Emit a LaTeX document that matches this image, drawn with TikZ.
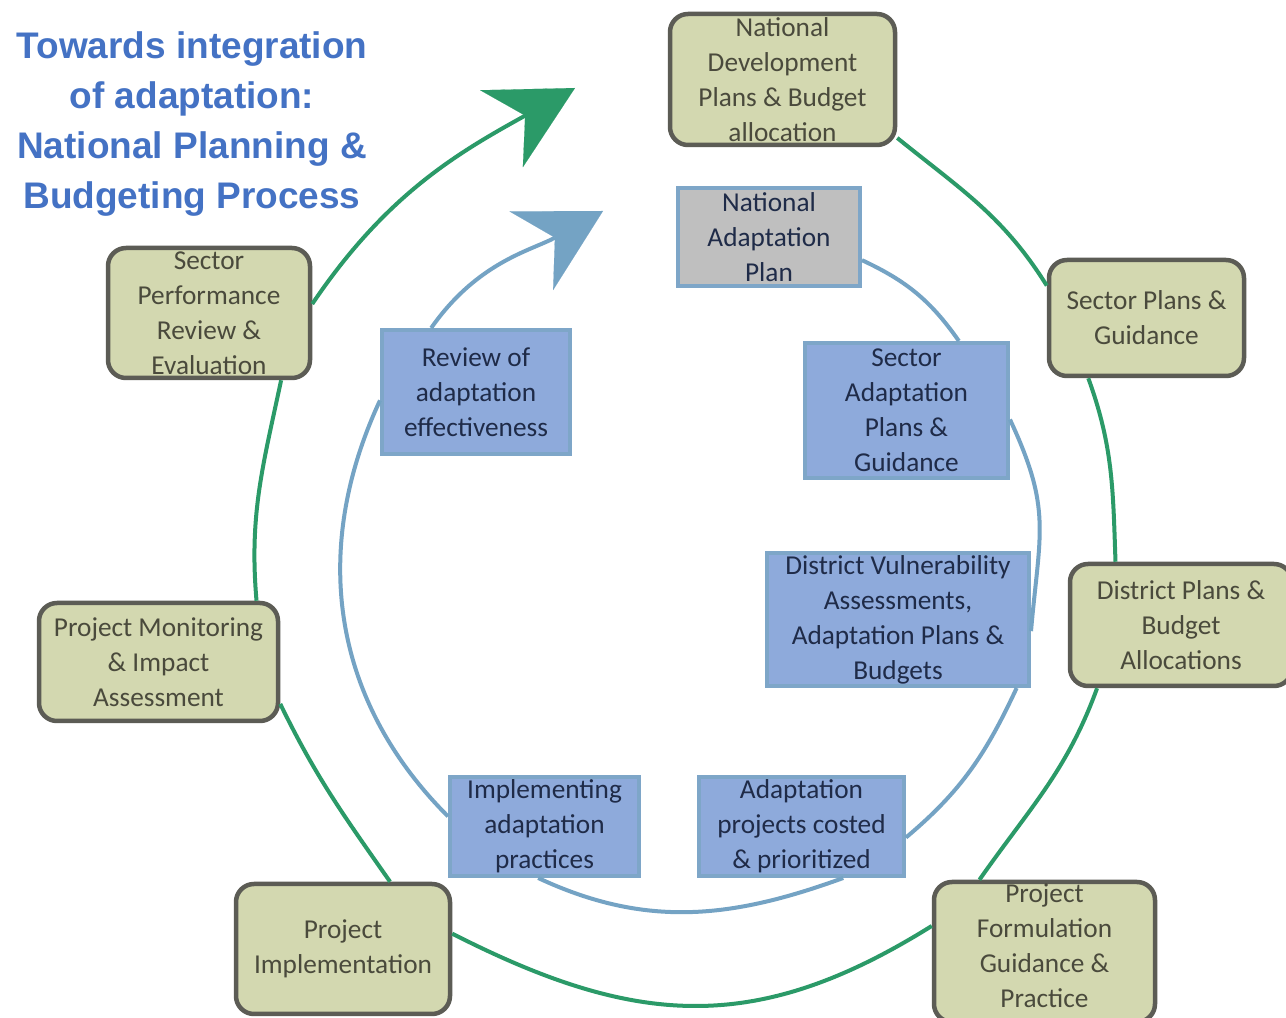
\documentclass[tikz,border=0pt]{standalone}
\usepackage{fontspec}
\setmainfont{Carlito}
\newfontfamily\titlefont{Liberation Sans}
\usetikzlibrary{arrows.meta, positioning}

\definecolor{olivefill}{HTML}{D3D8B0}
\definecolor{boxgray}{HTML}{5C5C55}
\definecolor{olivetext}{HTML}{4A4A3C}
\definecolor{bluefill}{HTML}{8EAADB}
\definecolor{steelline}{HTML}{7EA6C8}
\definecolor{navytext}{HTML}{1F2B48}
\definecolor{napgray}{HTML}{BFBFBF}
\definecolor{cyclegreen}{HTML}{2B9A68}
\definecolor{cycleblue}{HTML}{74A3C4}
\definecolor{titleblue}{HTML}{4472C4}

\tikzset{
  greenbox/.style={draw=boxgray, line width=4.5pt, fill=olivefill, rounded corners=18pt,
    text=olivetext, inner sep=0pt, align=center, font=\fontsize{27.3}{35}\selectfont},
  bluebox/.style={draw=steelline, line width=4pt, fill=bluefill,
    text=navytext, inner sep=0pt, align=center, font=\fontsize{27.3}{35}\selectfont},
  titletext/.style={text=titleblue, align=center, font=\titlefont\bfseries\fontsize{37}{50}\selectfont},
  gline/.style={draw=cyclegreen, line width=4pt},
  bline/.style={draw=cycleblue, line width=4pt}
}

\begin{document}
\begin{tikzpicture}[x=1pt, y=1pt]
\useasboundingbox (0,0) rectangle (1286,1018);
\clip (0,0) rectangle (1286,1018);
\fill[white] (0,0) rectangle (1286,1018);

% Title
\node[titletext] (title) at (192,894) {Towards integration\\of adaptation:\\National Planning \&\\Budgeting Process};

% Outer cycle: planning and budgeting
\node[greenbox, minimum width=225pt, minimum height=131pt] (ndp) at (782.5,938.5) {National\\Development\\Plans \& Budget\\allocation};
\node[greenbox, minimum width=195pt, minimum height=116pt] (secplans) at (1146.5,700) {Sector Plans \&\\Guidance};
\node[greenbox, minimum width=222pt, minimum height=122pt] (distplans) at (1181,393) {District Plans \&\\Budget\\Allocations};
\node[greenbox, minimum width=221pt, minimum height=140pt, text depth=12pt] (projform) at (1044.5,66) {Project\\Formulation\\Guidance \&\\Practice};
\node[greenbox, minimum width=214pt, minimum height=130pt] (projimpl) at (343,69) {Project\\Implementation};
\node[greenbox, minimum width=239pt, minimum height=118pt] (projmon) at (158.5,356) {Project Monitoring\\\& Impact\\Assessment};
\node[greenbox, minimum width=202pt, minimum height=130pt] (secperf) at (209,705) {Sector\\Performance\\Review \&\\Evaluation};

% Inner cycle: adaptation
\node[bluebox, fill=napgray, minimum width=182pt, minimum height=98pt] (nap) at (769,781) {National\\Adaptation\\Plan};
\node[bluebox, minimum width=203pt, minimum height=135pt] (secadapt) at (906.5,607.5) {Sector\\Adaptation\\Plans \&\\Guidance};
\node[bluebox, minimum width=262pt, minimum height=133pt] (distvuln) at (898,398.5) {District Vulnerability\\Assessments,\\Adaptation Plans \&\\Budgets};
\node[bluebox, minimum width=205pt, minimum height=99pt] (costed) at (801.5,191.5) {Adaptation\\projects costed\\\& prioritized};
\node[bluebox, minimum width=189pt, minimum height=99pt] (practices) at (544.5,191.5) {Implementing\\adaptation\\practices};
\node[bluebox, minimum width=188pt, minimum height=124pt] (review) at (476,626) {Review of\\adaptation\\effectiveness};

% Arrow tips of both cycles
\coordinate (gtip) at (575,930);
\coordinate (btip) at (603,807);

% Outer connectors
\foreach \a/\b/\o/\i/\l in {ndp.-27/secplans.162/-39/122/1, secplans.226/distplans.136/-70/92/1,
    distplans.217/projform.132/-110/55/1, projform.167/projimpl.8/-148/-27/1.1,
    projimpl.55/projmon.-19/125/-64/1, projmon.32/secperf.-43/95/-102/1}
  \draw[gline] (\a) to[out=\o, in=\i, looseness=\l] (\b);
\draw[gline, -{Stealth[length=84pt, width=88pt, inset=27pt, line width=0.1pt]}] (secperf.5) to[out=56, in=209] (gtip);

% Inner connectors
\foreach \a/\b/\o/\i/\l in {nap.-14/secadapt.53/-25/125/1, secadapt.-5/distvuln.-5/-65/85/1.2,
    distvuln.-30/costed.-6/-115/40/1, costed.-51/practices.-97/-160/-25/1,
    practices.174/review.185/135/245/1}
  \draw[bline] (\a) to[out=\o, in=\i, looseness=\l] (\b);
\draw[bline, -{Stealth[length=82pt, width=90pt, inset=27pt, line width=0.1pt]}] (review.125) to[out=55, in=209] (btip);

\end{tikzpicture}
\end{document}
